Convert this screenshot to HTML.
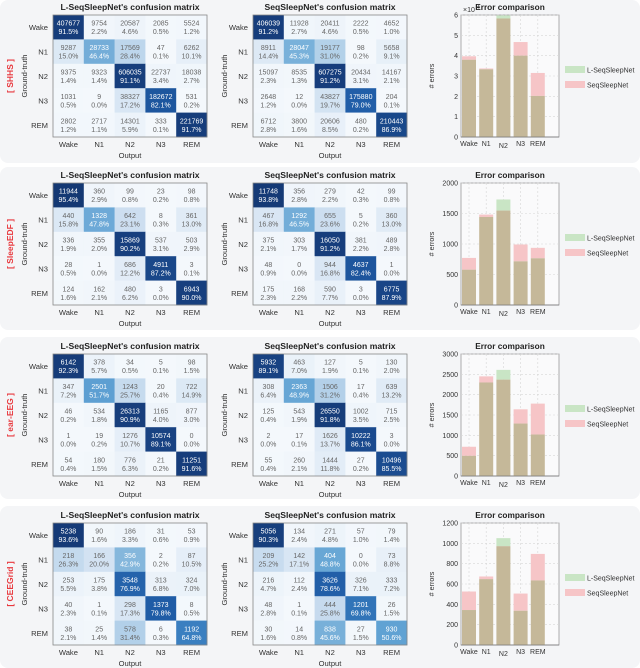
<!DOCTYPE html>
<html><head><meta charset="utf-8">
<style>
html,body{margin:0;padding:0;background:#fff;}
svg{display:block;font-family:"Liberation Sans",sans-serif;}
</style></head>
<body>
<svg id="fig" width="640" height="668" viewBox="0 0 640 668"></svg>
<script>
const stages = ["Wake","N1","N2","N3","REM"];
const datasetNames = ["[ SHHS ]","[ SleepEDF ]","[ ear-EEG ]","[ CEEGrid ]"];
const lCounts1 = [[407677,9754,20587,2085,5524],[9287,28733,17569,47,6262],[9375,9323,606035,22737,18038],[1031,9,38327,182672,531],[2802,2717,14301,333,221769]];
const sCounts1 = [[406039,11928,20411,2222,4652],[8911,28047,19177,98,5658],[15097,8535,607275,20434,14167],[2648,12,43827,175880,204],[6712,3800,20606,480,210443]];
const lCounts2 = [[11944,360,99,23,98],[440,1328,642,8,361],[336,355,15869,537,503],[28,1,686,4911,3],[124,162,480,3,6943]];
const sCounts2 = [[11748,356,279,42,99],[467,1292,655,5,360],[375,303,16050,381,489],[48,0,944,4637,1],[175,168,590,3,6775]];
const lCounts3 = [[6142,378,34,5,98],[347,2501,1243,20,722],[46,534,26313,1165,877],[1,19,1276,10574,0],[54,180,776,21,11251]];
const sCounts3 = [[5932,463,127,5,130],[308,2363,1506,17,639],[125,543,26550,1002,715],[2,17,1626,10222,3],[55,260,1444,27,10496]];
const lCounts4 = [[5238,90,186,31,53],[218,166,356,2,87],[253,175,3548,313,324],[40,1,298,1373,8],[38,25,578,6,1192]];
const sCounts4 = [[5056,134,271,57,79],[209,142,404,0,73],[216,112,3626,326,333],[48,1,444,1201,26],[30,14,838,27,930]];
const lErrors1 = [38000,33300,59800,40000,20200];
const sErrors1 = [39700,33700,58300,46700,31500];
const lErrors2 = [579,1443,1730,716,766];
const sErrors2 = [772,1482,1548,992,937];
const lErrors3 = [496,2300,2610,1290,1020];
const sErrors3 = [719,2450,2370,1640,1780];
const lErrors4 = [344,648,1051,337,635];
const sErrors4 = [526,674,972,506,896];
const yMax = [60000,2000,3000,1200];
const yTicks1 = [0,1,2,3,4,5,6];
const yTicks2 = [0,500,1000,1500,2000];
const yTicks3 = [0,500,1000,1500,2000,2500,3000];
const yTicks4 = [0,200,400,600,800,1000,1200];

const NS="http://www.w3.org/2000/svg";
const svg=document.getElementById('fig');
function mk(tag,attrs,parent,txt){const e=document.createElementNS(NS,tag);for(const k in attrs)e.setAttribute(k,attrs[k]);if(txt!==undefined)e.textContent=txt;(parent||svg).appendChild(e);return e;}
function hex(c){return [parseInt(c.slice(1,3),16),parseInt(c.slice(3,5),16),parseInt(c.slice(5,7),16)];}
const stops=[[0,'#f4f8fc'],[0.1,'#e6eff8'],[0.25,'#c9dcef'],[0.4,'#93c0e0'],[0.5,'#62a3d4'],[0.65,'#3a7fc0'],[0.8,'#1f5ca6'],[0.9,'#173f7e'],[1,'#12326a']];
function blue(p){for(let i=1;i<stops.length;i++){if(p<=stops[i][0]){const a=stops[i-1],b=stops[i];const t=(p-a[0])/(b[0]-a[0]);const ca=hex(a[1]),cb=hex(b[1]);return 'rgb('+ca.map((v,j)=>Math.round(v+(cb[j]-v)*t)).join(',')+')';}}return stops[stops.length-1][1];}

const mTops=[15,183,354,523];
const panelTops=[0,167,337,506];
const panelH=[163,163,162,162];
const lSets=[lCounts1,lCounts2,lCounts3,lCounts4];
const sSets=[sCounts1,sCounts2,sCounts3,sCounts4];
const lErr=[lErrors1,lErrors2,lErrors3,lErrors4];
const sErr=[sErrors1,sErrors2,sErrors3,sErrors4];
const ticks=[yTicks1,yTicks2,yTicks3,yTicks4];
const MW=154,MH=122;

function matrix(g,x0,y0,counts,title){
  const cw=MW/5,ch=MH/5;
  const t=mk('text',{x:x0+MW/2,y:y0-5,'text-anchor':'middle','font-size':'8.6','font-weight':'bold',fill:'#222'},g,title);
  
  
  counts.forEach((row,r)=>{
    const sum=row.reduce((a,b)=>a+b,0);
    row.forEach((v,c)=>{
      const p=sum?v/sum:0;
      const rc=mk('rect',{x:x0+c*cw,y:y0+r*ch,width:cw+0.3,height:ch+0.3,fill:blue(p)},g);
      
      
      const col=p>0.42?'#ffffff':'#666666';
      const cx=x0+c*cw+cw/2, cy=y0+r*ch+ch/2;
      const t1=mk('text',{x:cx,y:cy-1.5,'text-anchor':'middle','font-size':'7',fill:col},g,String(v));
      
      
      const t2=mk('text',{x:cx,y:cy+7,'text-anchor':'middle','font-size':'7',fill:col},g,(p*100).toFixed(1)+'%');
      
      
    });
  });
  mk('rect',{x:x0,y:y0,width:MW,height:MH,fill:'none',stroke:'#888','stroke-width':'0.8'},g);
  stages.forEach((s,i)=>{
    const a=mk('text',{x:x0-5,y:y0+i*ch+ch/2+3,'text-anchor':'end','font-size':'7.6',fill:'#333'},g,s);
    
    
    const b=mk('text',{x:x0+i*cw+cw/2,y:y0+MH+10,'text-anchor':'middle','font-size':'7.6',fill:'#333'},g,s);
    
    
  });
  const o=mk('text',{x:x0+MW/2,y:y0+MH+21,'text-anchor':'middle','font-size':'7.6',fill:'#333'},g,'Output');
  
  
  const gy=y0+MH/2, gx=x0-26;
  const gt=mk('text',{x:gx,y:gy,'text-anchor':'middle','font-size':'7.6',fill:'#333',transform:'rotate(-90 '+gx+' '+gy+')'},g,'Ground-truth');
  
  
}

for(let k=0;k<4;k++){
  const g=mk('g',{});
  
  
  const bg=mk('rect',{x:0,y:panelTops[k],width:640,height:panelH[k],rx:8,fill:'#f4f5f7'},g);
  
  
  const my=mTops[k];
  const ly=my+MH/2;
  const lab=mk('text',{x:13,y:ly,'text-anchor':'middle','font-size':'8.5','font-weight':'bold',fill:'#e8383d',transform:'rotate(-90 13 '+ly+')'},g,datasetNames[k]);
  
  
  matrix(g,53,my,lSets[k],"L-SeqSleepNet's confusion matrix");
  matrix(g,253,my,sSets[k],"SeqSleepNet's confusion matrix");
  const px0=461,px1=559,py0=my,py1=my+MH;
  const ymx=yMax[k];
  const yS=v=>py1-(v/ymx)*(py1-py0);
  const xC=i=>469+i*17.2;
  mk('rect',{x:px0,y:py0,width:px1-px0,height:py1-py0,fill:'#fafafb',stroke:'#999','stroke-width':'0.8'},g);
  const tk=ticks[k];
  const scale=k===0?10000:1;
  tk.forEach(t=>{
    const y=yS(t*scale);
    if(t>0) mk('line',{x1:px0,x2:px1,y1:y,y2:y,stroke:'#d6d6d6','stroke-width':'0.6','stroke-dasharray':'2,2'},g);
    const tl=mk('text',{x:px0-3,y:y+2.5,'text-anchor':'end','font-size':'7',fill:'#333'},g,String(t));
    
    
  });
  stages.forEach((s,i)=>{
    mk('line',{x1:xC(i),x2:xC(i),y1:py0,y2:py1,stroke:'#d6d6d6','stroke-width':'0.6','stroke-dasharray':'2,2'},g);
  });
  if(k===0){
    const e=mk('text',{x:px0+2,y:py0-3,'font-size':'7',fill:'#333'},g,'×10');
    
    
    mk('text',{x:px0+16,y:py0-6,'font-size':'5',fill:'#333'},g,'4');
  }
  const le=lErr[k],se=sErr[k];
  stages.forEach((s,i)=>{
    const lo=Math.min(le[i],se[i]), hi=Math.max(le[i],se[i]);
    const topCol=le[i]>se[i]?'#c9e5c5':'#f6c5c7';
    const b1=mk('rect',{x:xC(i)-7,y:yS(hi),width:14,height:yS(lo)-yS(hi),fill:topCol},g);
    
    
    const b2=mk('rect',{x:xC(i)-7,y:yS(lo),width:14,height:py1-yS(lo),fill:'#c5b899'},g);
    
    
    const xl=mk('text',{x:xC(i),y:py1+9+(i===2?2:0),'text-anchor':'middle','font-size':'7',fill:'#333'},g,s);
    
    
  });
  mk('line',{x1:px0,x2:px1,y1:py1,y2:py1,stroke:'#777','stroke-width':'0.8'},g);
  const et=mk('text',{x:510,y:py0-5,'text-anchor':'middle','font-size':'8.3','font-weight':'bold',fill:'#222'},g,'Error comparison');
  
  
  const ex=434, ey=my+MH/2;
  const ya=mk('text',{x:ex,y:ey,'text-anchor':'middle','font-size':'7.2',fill:'#333',transform:'rotate(-90 '+ex+' '+ey+')'},g,'# errors');
  
  
  const lg1=mk('rect',{x:565,y:my+51,width:20,height:7,fill:'#c9e5c5'},g);
  
  
  const lt1=mk('text',{x:587,y:my+57.5,'font-size':'7',fill:'#333'},g,'L-SeqSleepNet');
  
  
  const lg2=mk('rect',{x:565,y:my+66,width:20,height:7,fill:'#f6c5c7'},g);
  
  
  const lt2=mk('text',{x:587,y:my+72.5,'font-size':'7',fill:'#333'},g,'SeqSleepNet');
  
  
}
</script>
</body></html>
